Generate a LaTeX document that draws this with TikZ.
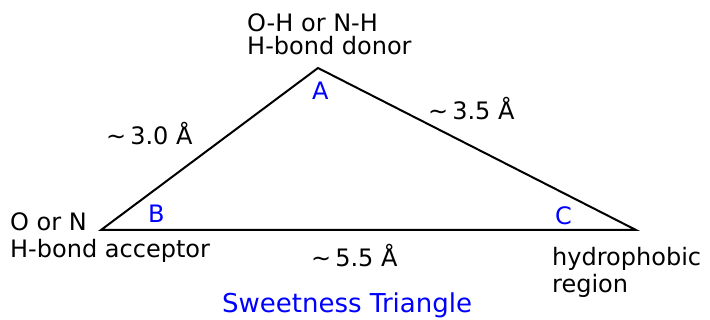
\documentclass[tikz,border=0pt]{standalone}
\usepackage{fontspec}
\setmainfont{DejaVu Sans}
\usepackage{tikz}
\usetikzlibrary{calc,positioning}
\tikzset{
 swt edge/.style={line width=2pt,line join=miter},
 swt text/.style={font=\fontsize{24}{26}\selectfont,inner sep=0pt,
                  anchor=base west,align=left},
 swt corner/.style={swt text,text=blue},
 swt title/.style={font=\fontsize{26}{28}\selectfont,inner sep=0pt,
                   anchor=base west,text=blue}
}

\begin{document}
\begin{tikzpicture}[x=1pt,y=-1pt]
 \useasboundingbox (0,0) rectangle (710,320);
 \coordinate (vA) at (318,68);
 \coordinate (vB) at (101,230);
 \coordinate (vC) at (636,230);

 \draw[swt edge] (vA)--(vB)--(vC)--cycle;

 % corner letters
 \node[swt corner] (lA) at (312,100) {A};
 \node[swt corner] (lB) at (148,223) {B};
 \node[swt corner] (lC) at (555,225) {C};

 % what sits at each corner
 \node[swt text] (donor1) at (247,32) {O-H or N-H};
 \node[swt text] (donor2) at (247,55) {H-bond donor};
 \node[swt text] (acc1) at (10,231) {O or N};
 \node[swt text] (acc2) at (10,258) {H-bond acceptor};
 \node[swt text] (hyd1) at (552,266) {hydrophobic};
 \node[swt text] (hyd2) at (552,293) {region};

 % distances
 \node[swt text] (dAB) at (106,145) {\textasciitilde\,3.0 Å};
 \node[swt text] (dAC) at (428,120) {\textasciitilde\,3.5 Å};
 \node[swt text] (dBC) at (311,267) {\textasciitilde\,5.5 Å};

 \node[swt title] (title) at (222,313) {Sweetness Triangle};
\end{tikzpicture}
\end{document}
